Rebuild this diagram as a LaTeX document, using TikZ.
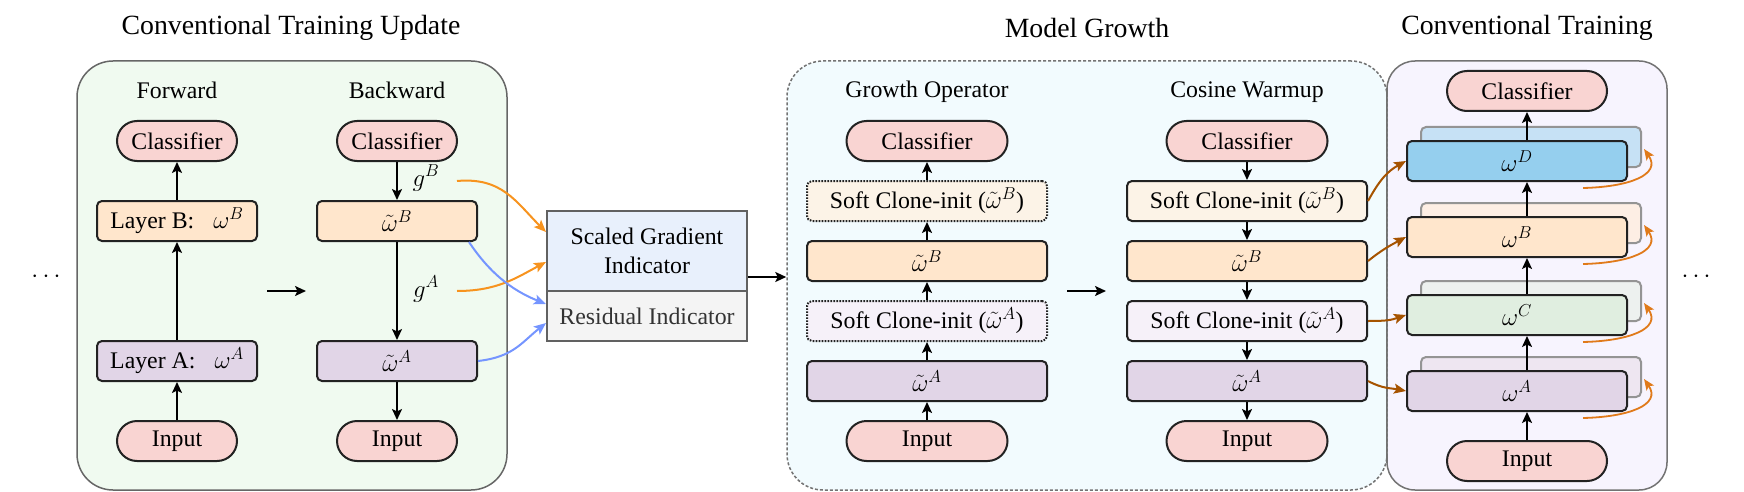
\documentclass[tikz,border=0pt]{standalone}
\usepackage{fontspec}
\setmainfont{Liberation Serif}
\usetikzlibrary{arrows.meta,calc}
\definecolor{pinkc}{HTML}{F9D4D2}
\definecolor{peach}{HTML}{FFE6CC}
\definecolor{lav}{HTML}{E1D5E7}
\definecolor{softB}{HTML}{FCF3E7}
\definecolor{softA}{HTML}{F6F1F9}
\definecolor{sgc}{HTML}{E8F0FC}
\definecolor{resc}{HTML}{F4F4F4}
\definecolor{greenbg}{HTML}{F0FAF0}
\definecolor{cyanbg}{HTML}{F2FBFE}
\definecolor{ctbg}{HTML}{F7F4FE}
\definecolor{Dfront}{HTML}{95CFEE}
\definecolor{Dback}{HTML}{C6E1F5}
\definecolor{Bback}{HTML}{FDEEE4}
\definecolor{Cfront}{HTML}{E0EEE0}
\definecolor{Cback}{HTML}{EDF1EF}
\definecolor{Aback}{HTML}{EEE6F1}
\definecolor{orangeA}{HTML}{F7931E}
\definecolor{blueA}{HTML}{7595FF}
\definecolor{brownA}{HTML}{A65300}
\definecolor{orangeL}{HTML}{E07A1A}
\definecolor{edge}{HTML}{222222}
\begin{document}
\begin{tikzpicture}[x=1pt,y=-1pt,
  every node/.style={font=\fontsize{23.8}{29}\selectfont, inner sep=0pt},
  ttl/.style={font=\fontsize{27.8}{32}\selectfont},
  cont/.style={line width=1.5pt, rounded corners=36pt, minimum height=429pt},
  blk/.style={draw=edge, line width=2pt, rounded corners=5pt, minimum width=160pt, minimum height=40pt},
  soft/.style={blk, dash pattern=on 1.6pt off 1.4pt},
  pill/.style={blk, rounded corners=20pt, fill=pinkc, minimum width=120pt},
  bk/.style={draw=black!42, line width=2pt, rounded corners=5pt, minimum width=220pt, minimum height=40pt},
  ind/.style={draw=black!62, line width=2pt, minimum width=200pt},
  arr/.style={draw=black, line width=2pt, -{Stealth[length=11pt,width=10pt,inset=2.5pt]}},
  oarr/.style={draw=orangeA, line width=2pt, -{Stealth[length=12pt,width=10pt,inset=2.5pt]}},
  barr/.style={draw=blueA, line width=2pt, -{Stealth[length=12pt,width=10pt,inset=2.5pt]}},
  brarr/.style={draw=brownA, line width=2pt, -{Stealth[length=12pt,width=10pt,inset=2.5pt]}},
  larr/.style={draw=orangeL, line width=1.8pt, -{Stealth[length=11pt,width=9pt,inset=2.5pt]}}
]
\useasboundingbox (0,0) rectangle (1744,492);
% containers
\node[cont, draw=black!60, fill=greenbg, minimum width=430pt] (green) at (292,275.5) {};
\node[cont, draw=black!55, fill=ctbg, rounded corners=28pt, minimum width=280pt] (ct) at (1527,275.5) {};
\node[cont, draw=black!55, fill=cyanbg, dash pattern=on 3pt off 2pt, minimum width=600pt] (grow) at (1087,275.5) {};
\draw[draw=black!55, line width=1.5pt] (ct.north west) ++(0,28) -- ($(ct.south west)+(0,-28)$);
% titles
\node[ttl] (t1) at (291,28) {Conventional Training Update};
\node[ttl] (t2) at (1087,28) {Model Growth};
\node[ttl] (t3) at (1527,28) {Conventional Training};
\node (lfw) at (177,90) {Forward};
\node (lbw) at (397,90) {Backward};
\node (lgo) at (927,92) {Growth Operator};
\node (lcw) at (1247,92) {Cosine Warmup};
\node (dl) at (46,277) {$\cdots$};
\node (dr) at (1696,277) {$\cdots$};
% forward
\node[pill] (fcls) at (177,141) {Classifier};
\node[blk, fill=peach] (fLB) at (177,221) {Layer B:\hspace{0.8em}$\omega^B$};
\node[blk, fill=lav] (fLA) at (177,361) {Layer A:\hspace{0.8em}$\omega^A$};
\node[pill] (fin) at (177,441) {Input};
\draw[arr] (fin) -- (fLA);
\draw[arr] (fLA) -- (fLB);
\draw[arr] (fLB) -- (fcls);
% backward
\node[pill] (bcls) at (397,141) {Classifier};
\node[blk, fill=peach] (bwB) at (397,221) {$\tilde\omega^B$};
\node[blk, fill=lav] (bwA) at (397,361) {$\tilde\omega^A$};
\node[pill] (bin) at (397,441) {Input};
\draw[arr] (bcls) -- (bwB);
\draw[arr] (bwB) -- (bwA);
\draw[arr] (bwA) -- (bin);
\node (gB) at (426,178) {$g^B$};
\node (gA) at (426,289) {$g^A$};
\coordinate (m1) at (267,291);
\coordinate (m2) at (306,291);
\draw[arr] (m1) -- (m2);
% indicator
\node[ind, fill=sgc, minimum height=80pt, align=center] (sg) at (647,251) {Scaled Gradient\\Indicator};
\node[ind, fill=resc, minimum height=50pt, text=black!80] (res) at (647,316) {Residual Indicator};
\coordinate (sgout) at ($(sg.south east)+(0,-15)$);
\draw[arr] (sgout) -- (sgout -| grow.west);
\coordinate (oB) at (457,181);
\coordinate (oA) at (457,291);
\draw[oarr] (oB) .. controls +(45,-4) and +(-30,-30) .. ($(sg.north west)+(0,22)$);
\draw[oarr] (oA) .. controls +(40,0) and +(-30,16) .. ($(sg.north west)+(0,52)$);
\draw[barr] ($(bwB.south east)+(-9,0)$) .. controls +(20,30) and +(-35,-14) .. ($(res.north west)+(0,14)$);
\draw[barr] (bwA.east) .. controls +(35,-4) and +(-25,20) .. ($(res.north west)+(0,33)$);
% growth operator
\node[pill, minimum width=161pt] (gcls) at (927,141) {Classifier};
\node[soft, fill=softB, minimum width=240pt] (gsB) at (927,201) {Soft Clone-init ($\tilde\omega^B$)};
\node[blk, fill=peach, minimum width=240pt] (gwB) at (927,261) {$\tilde\omega^B$};
\node[soft, fill=softA, minimum width=240pt] (gsA) at (927,321) {Soft Clone-init ($\tilde\omega^A$)};
\node[blk, fill=lav, minimum width=240pt] (gwA) at (927,381) {$\tilde\omega^A$};
\node[pill, minimum width=161pt] (gin) at (927,441) {Input};
\draw[arr] (gin) -- (gwA);
\draw[arr] (gwA) -- (gsA);
\draw[arr] (gsA) -- (gwB);
\draw[arr] (gwB) -- (gsB);
\draw[arr] (gsB) -- (gcls);
\coordinate (m3) at (1067,291);
\coordinate (m4) at (1106,291);
\draw[arr] (m3) -- (m4);
% cosine warmup
\node[pill, minimum width=161pt] (ccls) at (1247,141) {Classifier};
\node[blk, fill=softB, minimum width=240pt] (csB) at (1247,201) {Soft Clone-init ($\tilde\omega^B$)};
\node[blk, fill=peach, minimum width=240pt] (cwB) at (1247,261) {$\tilde\omega^B$};
\node[blk, fill=softA, minimum width=240pt] (csA) at (1247,321) {Soft Clone-init ($\tilde\omega^A$)};
\node[blk, fill=lav, minimum width=240pt] (cwA) at (1247,381) {$\tilde\omega^A$};
\node[pill, minimum width=161pt] (cin) at (1247,441) {Input};
\draw[arr] (ccls) -- (csB);
\draw[arr] (csB) -- (cwB);
\draw[arr] (cwB) -- (csA);
\draw[arr] (csA) -- (cwA);
\draw[arr] (cwA) -- (cin);
% conventional training
\node[pill, minimum width=160pt] (tcls) at (1527,91) {Classifier};
\node[bk, fill=Dback] (bD) at (1531,147) {};
\node[blk, fill=Dfront, minimum width=220pt] (fD) at (1517,161) {$\omega^D$};
\node[bk, fill=Bback] (bB) at (1531,223) {};
\node[blk, fill=peach, minimum width=220pt] (fB) at (1517,237) {$\omega^B$};
\node[bk, fill=Cback] (bC) at (1531,301) {};
\node[blk, fill=Cfront, minimum width=220pt] (fC) at (1517,315) {$\omega^C$};
\node[bk, fill=Aback] (bA) at (1531,377) {};
\node[blk, fill=lav, minimum width=220pt] (fA) at (1517,391) {$\omega^A$};
\node[pill, minimum width=160pt] (tin) at (1527,461) {Input};
\draw[arr] (tin) -- (tin |- fA.south);
\draw[arr] (tin |- fA.north) -- (tin |- fC.south);
\draw[arr] (tin |- fC.north) -- (tin |- fB.south);
\draw[arr] (tin |- fB.north) -- (tin |- fD.south);
\draw[arr] (tin |- fD.north) -- (tcls);
\foreach \n in {D,B,C,A}{
  \coordinate (l\n) at ($(f\n.south)+(66,6)$);
  \draw[larr] (l\n) .. controls +(45,-1) and +(18,26) .. ($(b\n.east)+(2,2)$);
}
% brown arrows
\draw[brarr] (csB.east) .. controls +(12,-22) and +(-18,10) .. (fD.west);
\draw[brarr] (cwB.east) .. controls +(15,-12) and +(-15,8) .. (fB.west);
\draw[brarr] (csA.east) .. controls +(20,0) and +(-15,5) .. (fC.west);
\draw[brarr] (cwA.east) .. controls +(15,8) and +(-15,-3) .. (fA.west);
\end{tikzpicture}
\end{document}
